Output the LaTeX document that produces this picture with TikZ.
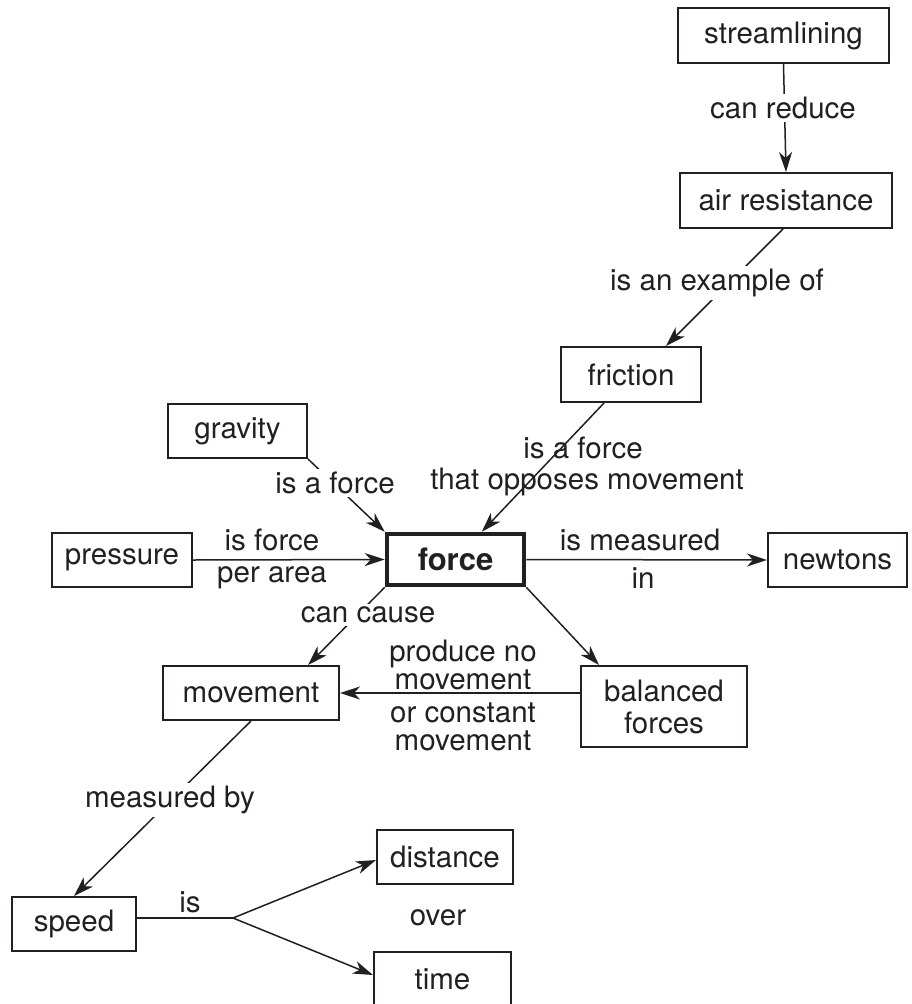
\documentclass[tikz,border=0pt]{standalone}
\usepackage{fontspec}
\setmainfont{TeX Gyre Heros}
\usetikzlibrary{arrows.meta}
\definecolor{ink}{HTML}{231F20}
\begin{document}
\begin{tikzpicture}[x=1pt,y=-1pt,
  every node/.style={text=ink},
  txt/.style={font=\fontsize{29.5}{25}\selectfont, inner sep=0pt},
  box/.style={draw=ink, line width=2pt, inner sep=0pt, font=\fontsize{29.5}{32}\selectfont, align=center},
  mainbox/.style={draw=ink, line width=4.5pt, inner sep=0pt, font=\bfseries\fontsize{31}{31}\selectfont},
  conn/.style={draw=ink, line width=1.5pt, -{Stealth[length=20pt,width=13pt,inset=6pt]}},
  plain/.style={draw=ink, line width=1.5pt},
  tight/.style={txt, text height=21pt, text depth=0pt},
  gaplab/.style={txt, fill=white, inner sep=3pt}]
\useasboundingbox (0,0) rectangle (911,1004);
% boxes
\node[box, minimum width=211pt, minimum height=55pt] (stream) at (783.5,35.5) {streamlining};
\node[box, minimum width=212pt, minimum height=55pt] (air) at (786,200.5) {air resistance};
\node[box, minimum width=140pt, minimum height=55pt] (fric) at (631,374.5) {friction};
\node[box, minimum width=139pt, minimum height=54pt] (grav) at (237.5,431) {gravity};
\node[box, minimum width=140pt, minimum height=54pt] (press) at (122,560) {pressure};
\node[mainbox, minimum width=137pt, minimum height=51pt] (force) at (455.5,559.5) {force};
\node[box, minimum width=139pt, minimum height=54pt] (newt) at (837.5,560) {newtons};
\node[box, minimum width=176pt, minimum height=54pt] (mov) at (251,693) {movement};
\node[box, minimum width=166pt, minimum height=81pt] (bal) at (664,706.5) {balanced\\forces};
\node[box, minimum width=124pt, minimum height=54pt] (speed) at (74,924) {speed};
\node[box, minimum width=136pt, minimum height=54pt] (dist) at (445,857) {distance};
\node[box, minimum width=137pt, minimum height=54pt] (time) at (442.5,979) {time};
\coordinate (br) at (233,918);
% connectors
\draw[conn] (stream.south) -- (air.north);
\draw[conn] ([xshift=-3pt]air.south) -- ([xshift=35pt]fric.north);
\draw[conn] (fric) -- (force);
\draw[conn] (grav.south east) -- (force.north west);
\draw[conn] (press.east) -- (force.west);
\draw[conn] (force.east) -- (newt.west);
\draw[conn] (force.south west) -- ([xshift=57pt]mov.north);
\draw[conn] (force.south east) -- ([xshift=19pt]bal.north west);
\draw[conn] (bal.west |- mov.east) -- (mov.east);
\draw[conn] (mov.south) -- (speed.north);
\draw[plain] ([yshift=6pt]speed.east) -- (br);
\draw[conn] (br) -- ([yshift=-3pt]dist.west);
\draw[conn] (br) -- ([yshift=4pt]time.west);
% labels
\node[gaplab] (l1) at (783,108) {can reduce};
\node[gaplab] (l2) at (717,283) {is an example of};
\node[gaplab] (l3) at (335,483) {is a force};
\node[txt] (l4a) at (583,448) {is a force};
\node[txt] (l4b) at (587,482) {that opposes movement};
\node[txt] (l5a) at (272,540) {is force};
\node[txt] (l5b) at (272,578) {per area};
\node[txt] (l6a) at (640,540) {is measured};
\node[txt] (l6b) at (643,578) {in};
\node[gaplab] (l7) at (368,615) {can cause};
\node[tight] (l8a) at (463,650.5) {produce no};
\node[tight] (l8b) at (463,678.5) {movement};
\node[tight] (l8c) at (463,711.5) {or constant};
\node[tight] (l8d) at (463,739.5) {movement};
\node[gaplab] (l9) at (170,800) {measured by};
\node[txt] (l10) at (190,902) {is};
\node[txt] (l11) at (438,918) {over};
\end{tikzpicture}
\end{document}
